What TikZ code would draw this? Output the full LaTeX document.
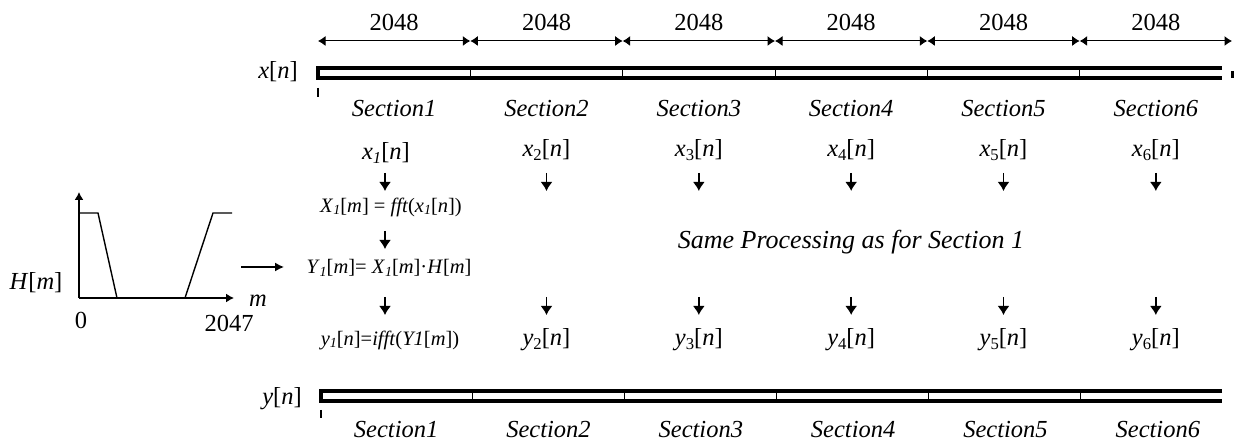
\documentclass[tikz,border=0pt]{standalone}
\usepackage{fontspec}
\setmainfont{Liberation Serif}
\usetikzlibrary{arrows.meta}
\newcommand\sbs[1]{\raisebox{-0.3ex}{\scalebox{0.68}{#1}}}
\newcommand\ital[1]{\textit{#1}}
\begin{document}
\begin{tikzpicture}[x=1pt,y=-1pt,
  big/.style={inner sep=0, font=\fontsize{24.5}{28}\selectfont},
  sec/.style={inner sep=0, font=\fontsize{24.5}{28}\selectfont\itshape},
  frm/.style={inner sep=0, font=\fontsize{20.5}{24}\selectfont},
  bar/.style={line width=3.8pt},
  sectick/.style={line width=1pt},
  dim/.style={line width=1pt, {Latex[length=7.5pt,width=10pt]}-{Latex[length=7.5pt,width=10pt]}},
  down/.style={line width=1.6pt, -{Latex[length=9pt,width=12pt]}},
  plot/.style={line width=1.4pt},
  axis/.style={line width=1.4pt, -{Latex[length=8pt,width=9pt]}},
  ]
\useasboundingbox (0,0) rectangle (1235,443);
% boundaries
\foreach \i in {0,...,6}{
  \pgfmathsetmacro\xx{318+152.333*\i}
  \pgfmathsetmacro\yy{321+151.833*\i}
  \coordinate (d\i) at (\xx,41);
  \coordinate (t\i) at (\xx,68);
  \coordinate (u\i) at (\xx,78);
  \coordinate (p\i) at (\yy,391);
  \coordinate (q\i) at (\yy,401);
}
\foreach \i in {1,...,6}{
  \pgfmathsetmacro\cx{318+152.333*(\i-0.5)}
  \node[big] (n\i) at (\cx,22) {2048};
  \node[sec] (s\i) at (\cx,109) {Section\i};
  \node[sec] (r\i) at (\cx+2,430) {Section\i};
}
\foreach \i [evaluate=\i as \j using int(\i-1)] in {1,...,6}{
  \draw[dim] (d\j) -- (d\i);
}
% x[n] bar
\node[big] (xn) at (278,72) {\ital{x}[\ital{n}]};
\draw[bar] (1222,68) -| (t0) |- (1222,78);
\foreach \i in {1,...,5}{ \draw[sectick] (t\i) -- (u\i); }
\draw[line width=3pt] (1232,71) -- (1232,78);
\draw[line width=1.2pt] (318,88) -- (318,97);
% y[n] bar
\node[big] (yn) at (282,399) {\ital{y}[\ital{n}]};
\draw[bar] (1222,391) -| (p0) |- (1222,401);
\foreach \i in {1,...,5}{ \draw[sectick] (p\i) -- (q\i); }
\draw[line width=1.2pt] (321,410) -- (321,418);
% column 1
\node[big] (x1) at (386,153) {\ital{x}\sbs{\ital{1}}[\ital{n}]};
\node[frm] (X1) at (391,207) {\ital{X}\sbs{\ital{1}}[\ital{m}] = \ital{fft}(\ital{x}\sbs{\ital{1}}[\ital{n}])};
\node[frm] (Y1) at (389,268) {\ital{Y}\sbs{\ital{1}}[\ital{m}]= \ital{X}\sbs{\ital{1}}[\ital{m}]·\ital{H}[\ital{m}]};
\node[frm] (y1) at (390,340) {\ital{y}\sbs{\ital{1}}[\ital{n}]=\ital{ifft}(\ital{Y1}[\ital{m}])};
\coordinate (a1s) at (385,173); \coordinate (a1e) at (385,191);
\coordinate (b1s) at (385,231); \coordinate (b1e) at (385,249);
\coordinate (c1s) at (385,297); \coordinate (c1e) at (385,315);
\draw[down] (a1s) -- (a1e);
\draw[down] (b1s) -- (b1e);
\draw[down] (c1s) -- (c1e);
% other columns
\foreach \i in {2,...,6}{
  \pgfmathsetmacro\cx{318+152.333*(\i-0.5)}
  \node[big] (x\i) at (\cx,150) {\ital{x}\sbs{\i}[\ital{n}]};
  \node[big] (y\i) at (\cx,340) {\ital{y}\sbs{\i}[\ital{n}]};
  \coordinate (a\i s) at (\cx,173); \coordinate (a\i e) at (\cx,191);
  \coordinate (c\i s) at (\cx,297); \coordinate (c\i e) at (\cx,315);
  \draw[down] (a\i s) -- (a\i e);
  \draw[down] (c\i s) -- (c\i e);
}
\node[sec, font=\fontsize{26}{30}\selectfont\itshape] (same) at (851,242) {Same Processing as for Section 1};
% H[m] plot
\coordinate (o) at (79,298);
\coordinate (ytip) at (79,192);
\coordinate (xtip) at (234,298);
\draw[axis] (o) -- (ytip);
\draw[axis] (o) -- (xtip);
\draw[plot] (79,213) -- (98,213) -- (117,298) -- (185,298) -- (213,213) -- (232,213);
\node[big] (H) at (36,283) {\ital{H}[\ital{m}]};
\node[big] (zero) at (81,320) {0};
\node[big] (end) at (229,323) {2047};
\node[big] (m) at (258,301) {\ital{m}};
\coordinate (hs) at (241,267); \coordinate (he) at (284,267);
\draw[line width=1.4pt, -{Latex[length=9pt,width=9pt]}] (hs) -- (he);
\end{tikzpicture}
\end{document}
